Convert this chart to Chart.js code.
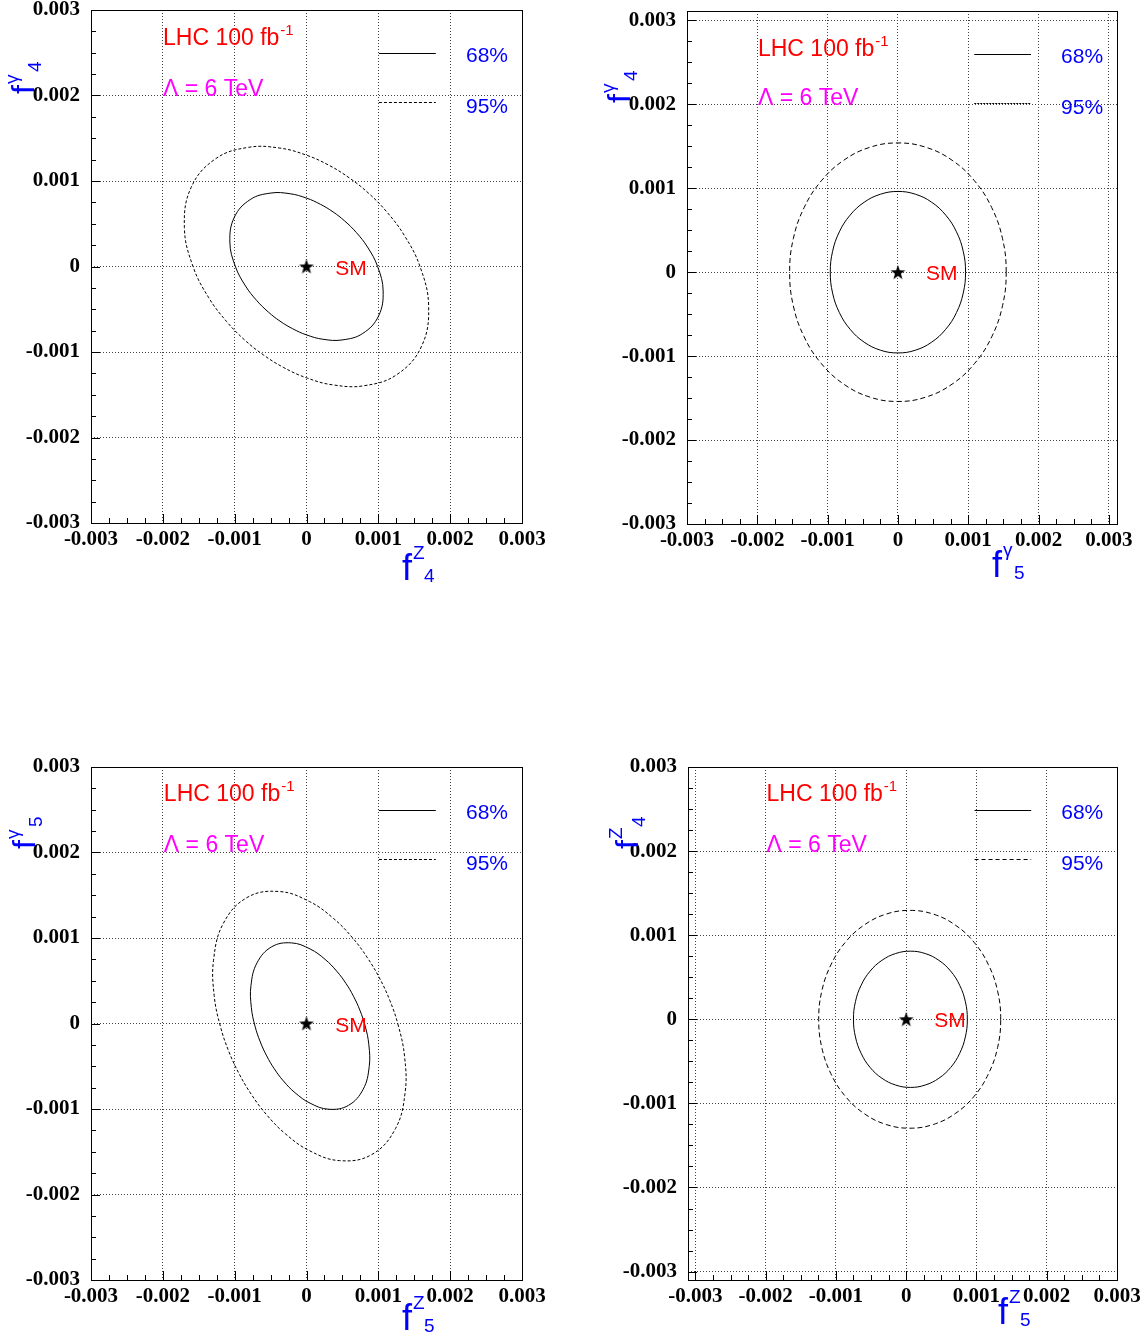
<!DOCTYPE html>
<html><head><meta charset="utf-8">
<script src="https://cdn.jsdelivr.net/npm/chart.js@4.4.0/dist/chart.umd.min.js"></script>
<style>
html,body{margin:0;padding:0;background:#fff;}
body{width:1145px;height:1342px;position:relative;overflow:hidden;}
.pw{position:absolute;}
canvas{display:block;}
</style></head><body>
<div class="pw" id="w1"><canvas id="c1"></canvas></div>
<div class="pw" id="w2"><canvas id="c2"></canvas></div>
<div class="pw" id="w3"><canvas id="c3"></canvas></div>
<div class="pw" id="w4"><canvas id="c4"></canvas></div>
<script>
// ---- data (values in units of 0.001) ----
const UNIT = 0.001;
const tickValues = [-3, -2, -1, 0, 1, 2, 3];
const tickLabels = ['-0.003', '-0.002', '-0.001', '0', '0.001', '0.002', '0.003'];
const smPoint = [0, 0];
const seriesNames = ['68%', '95%'];

// f^Z_4 vs f^γ_4
const p1Inner = [[0.990,0],[0.849,0.228],[0.692,0.399],[0.532,0.532],[0.369,0.639],[0.195,0.727],[0,0.800],[-0.228,0.851],[-0.496,0.859],[-0.783,0.783],[-1.003,0.579],[-1.067,0.286],[-0.990,0],[-0.849,-0.228],[-0.692,-0.399],[-0.532,-0.532],[-0.369,-0.639],[-0.195,-0.727],[0,-0.800],[0.228,-0.851],[0.496,-0.859],[0.783,-0.783],[1.003,-0.579],[1.067,-0.286]];
const p1Outer = [[1.580,0],[1.361,0.365],[1.113,0.643],[0.860,0.860],[0.598,1.035],[0.317,1.182],[0,1.302],[-0.371,1.385],[-0.805,1.394],[-1.262,1.262],[-1.605,0.927],[-1.700,0.456],[-1.580,0],[-1.361,-0.365],[-1.113,-0.643],[-0.860,-0.860],[-0.598,-1.035],[-0.317,-1.182],[0,-1.302],[0.371,-1.385],[0.805,-1.394],[1.262,-1.262],[1.605,-0.927],[1.700,-0.456]];
// f^γ_5 vs f^γ_4
const p2Inner = [[0.962,0],[0.929,0.249],[0.833,0.481],[0.680,0.680],[0.481,0.833],[0.249,0.929],[0,0.962],[-0.249,0.929],[-0.481,0.833],[-0.680,0.680],[-0.833,0.481],[-0.929,0.249],[-0.962,0],[-0.929,-0.249],[-0.833,-0.481],[-0.680,-0.680],[-0.481,-0.833],[-0.249,-0.929],[0,-0.962],[0.249,-0.929],[0.481,-0.833],[0.680,-0.680],[0.833,-0.481],[0.929,-0.249]];
const p2Outer = [[1.540,0],[1.488,0.399],[1.334,0.770],[1.089,1.089],[0.770,1.334],[0.399,1.488],[0,1.540],[-0.399,1.488],[-0.770,1.334],[-1.089,1.089],[-1.334,0.770],[-1.488,0.399],[-1.540,0],[-1.488,-0.399],[-1.334,-0.770],[-1.089,-1.089],[-0.770,-1.334],[-0.399,-1.488],[0,-1.540],[0.399,-1.488],[0.770,-1.334],[1.089,-1.089],[1.334,-0.770],[1.488,-0.399]];
// f^Z_5 vs f^γ_5
const p3Inner = [[0.817,-0.030],[0.743,0.156],[0.654,0.319],[0.549,0.469],[0.421,0.612],[0.259,0.750],[0.050,0.872],[-0.211,0.943],[-0.485,0.897],[-0.689,0.709],[-0.773,0.445],[-0.768,0.189],[-0.717,-0.030],[-0.643,-0.216],[-0.554,-0.379],[-0.449,-0.529],[-0.321,-0.672],[-0.159,-0.810],[0.050,-0.932],[0.311,-1.003],[0.585,-0.957],[0.789,-0.769],[0.873,-0.505],[0.868,-0.249]];
const p3Outer = [[1.280,-0.030],[1.160,0.270],[1.015,0.533],[0.844,0.774],[0.638,1.005],[0.377,1.228],[0.040,1.427],[-0.382,1.544],[-0.828,1.473],[-1.159,1.169],[-1.294,0.740],[-1.285,0.325],[-1.200,-0.030],[-1.080,-0.330],[-0.935,-0.593],[-0.764,-0.834],[-0.558,-1.065],[-0.297,-1.288],[0.040,-1.487],[0.462,-1.604],[0.908,-1.533],[1.239,-1.229],[1.374,-0.800],[1.365,-0.385]];
// f^Z_5 vs f^Z_4
const p4Inner = [[0.870,0],[0.842,0.210],[0.761,0.405],[0.633,0.573],[0.465,0.701],[0.270,0.782],[0.060,0.810],[-0.150,0.782],[-0.345,0.701],[-0.513,0.573],[-0.641,0.405],[-0.722,0.210],[-0.750,0],[-0.722,-0.210],[-0.641,-0.405],[-0.513,-0.573],[-0.345,-0.701],[-0.150,-0.782],[0.060,-0.810],[0.270,-0.782],[0.465,-0.701],[0.633,-0.573],[0.761,-0.405],[0.842,-0.210]];
const p4Outer = [[1.345,0],[1.301,0.335],[1.171,0.648],[0.966,0.916],[0.698,1.121],[0.385,1.251],[0.050,1.295],[-0.285,1.251],[-0.598,1.121],[-0.866,0.916],[-1.071,0.648],[-1.201,0.335],[-1.245,0],[-1.201,-0.335],[-1.071,-0.648],[-0.866,-0.916],[-0.598,-1.121],[-0.285,-1.251],[0.050,-1.295],[0.385,-1.251],[0.698,-1.121],[0.966,-0.916],[1.171,-0.648],[1.301,-0.335]];

// ---- layout / style per panel ----
const panels = [
  {id:'c1', wrap:'w1', box:[0,0,580,620], area:[91,10,522,523], xr:[-3,3], yr:[-3,3],
   inner:p1Inner, outer:p1Outer, dash:[3,2], legDash:[3,2],
   xt:{sup:'Z', sub:'4', x:402, y:580}, yt:{sup:'γ', sub:'4', x:34, y:94},
   lhc:[0.167,0.068], lam:[0.167,0.167]},
  {id:'c2', wrap:'w2', box:[580,0,565,620], area:[687,11,1117,524], xr:[-3,3.116], yr:[-3,3.112],
   inner:p2Inner, outer:p2Outer, dash:[5,3], legDash:[2,1],
   xt:{sup:'γ', sub:'5', x:992, y:577}, yt:{sup:'γ', sub:'4', x:630, y:103},
   lhc:[0.165,0.088], lam:[0.165,0.183]},
  {id:'c3', wrap:'w3', box:[0,730,580,612], area:[91,767,522,1280], xr:[-3,3], yr:[-3,3],
   inner:p3Inner, outer:p3Outer, dash:[3,2], legDash:[3,2],
   xt:{sup:'Z', sub:'5', x:402, y:1330}, yt:{sup:'γ', sub:'5', x:35, y:849},
   lhc:[0.169,0.067], lam:[0.169,0.166]},
  {id:'c4', wrap:'w4', box:[580,730,565,612], area:[688,767,1117,1280], xr:[-3.105,3], yr:[-3.1,3],
   inner:p4Inner, outer:p4Outer, dash:[5,3], legDash:[4,3],
   xt:{sup:'Z', sub:'5', x:998, y:1324}, yt:{sup:'Z', sub:'4', x:638, y:849},
   lhc:[0.183,0.067], lam:[0.183,0.166]}
];

// star marker
const star = document.createElement('canvas');
star.width = 18; star.height = 18;
(function(){
  const sc = star.getContext('2d');
  sc.fillStyle = '#000';
  sc.beginPath();
  for (let i = 0; i < 10; i++) {
    const r = (i % 2) ? 3.1 : 7.8;
    const a = -Math.PI / 2 + i * Math.PI / 5;
    sc.lineTo(9 + r * Math.cos(a), 9.6 + r * Math.sin(a));
  }
  sc.closePath(); sc.fill();
})();

const SANS = '"Liberation Sans", Arial, sans-serif';

// closed curve: wrap with neighbours so the spline is smooth at the seam
function toPts(arr) {
  const n = arr.length;
  const seq = [arr[n - 1]].concat(arr, [arr[0], arr[1]]);
  return seq.map(q => ({x: q[0] * UNIT, y: q[1] * UNIT}));
}
// hide the two helper segments (first and last) so nothing is drawn twice
function seamColor(n) {
  return c => (c.p0DataIndex === 0 || c.p0DataIndex === n + 1) ? 'rgba(0,0,0,0)' : '#000';
}

function makeDeco(p) {
  const [cx, cy] = p.box;
  function title(ctx, t, rotated) {
    ctx.save();
    ctx.fillStyle = '#0000ff';
    ctx.textBaseline = 'alphabetic';
    ctx.textAlign = 'left';
    ctx.translate(t.x - cx, t.y - cy);
    if (rotated) ctx.rotate(-Math.PI / 2);
    const big = rotated ? 32 : 36;
    ctx.font = big + 'px ' + SANS;
    ctx.fillText('f', 0, 0);
    ctx.font = '19px ' + SANS;
    ctx.fillText(t.sup, rotated ? 10 : 11, rotated ? -16 : -21);
    ctx.fillText(t.sub, rotated ? 22 : 22, rotated ? 7 : 2);
    ctx.restore();
  }
  return {
    id: 'deco',
    afterDraw(chart) {
      const ctx = chart.ctx, a = chart.chartArea;
      const xs = chart.scales.x, ys = chart.scales.y;
      const W = a.right - a.left, H = a.bottom - a.top;
      ctx.save();
      // minor/major tick marks inside the frame (bottom and left axes)
      ctx.strokeStyle = '#000'; ctx.lineWidth = 1; ctx.setLineDash([]);
      for (let k = -13; k <= 13; k++) {
        const v = k * 0.25;
        const len = (k % 4 === 0) ? 9 : 5;
        if (v >= p.xr[0] - 1e-9 && v <= p.xr[1] + 1e-9) {
          const px = Math.round(xs.getPixelForValue(v * UNIT)) + 0.5;
          ctx.beginPath(); ctx.moveTo(px, a.bottom); ctx.lineTo(px, a.bottom - len); ctx.stroke();
        }
        if (v >= p.yr[0] - 1e-9 && v <= p.yr[1] + 1e-9) {
          const py = Math.round(ys.getPixelForValue(v * UNIT)) + 0.5;
          ctx.beginPath(); ctx.moveTo(a.left, py); ctx.lineTo(a.left + len, py); ctx.stroke();
        }
      }
      // frame
      ctx.strokeRect(Math.round(a.left) + 0.5, Math.round(a.top) + 0.5, Math.round(W), Math.round(H));

      // annotations
      ctx.textAlign = 'left'; ctx.textBaseline = 'alphabetic';
      ctx.font = '23px ' + SANS;
      ctx.fillStyle = '#ff0000';
      const lx = a.left + p.lhc[0] * W, ly = a.top + p.lhc[1] * H;
      ctx.fillText('LHC 100 fb', lx, ly);
      const lw = ctx.measureText('LHC 100 fb').width;
      ctx.font = '15px ' + SANS;
      ctx.fillText('-1', lx + lw + 1, ly - 10);
      ctx.font = '23px ' + SANS;
      ctx.fillStyle = '#ff00ff';
      ctx.fillText('Λ = 6 TeV', a.left + p.lam[0] * W, a.top + p.lam[1] * H);

      // legend
      const x0 = a.left + 0.668 * W, x1 = a.left + 0.800 * W;
      ctx.strokeStyle = '#000';
      let y = Math.round(a.top + 0.0838 * H) + 0.5;
      ctx.beginPath(); ctx.moveTo(x0, y); ctx.lineTo(x1, y); ctx.stroke();
      y = Math.round(a.top + 0.179 * H) + 0.5;
      ctx.setLineDash(p.legDash);
      ctx.beginPath(); ctx.moveTo(x0, y); ctx.lineTo(x1, y); ctx.stroke();
      ctx.setLineDash([]);
      ctx.font = '21px ' + SANS;
      ctx.fillStyle = '#0000ff';
      ctx.fillText(seriesNames[0], a.left + 0.870 * W, a.top + 0.101 * H);
      ctx.fillText(seriesNames[1], a.left + 0.870 * W, a.top + 0.201 * H);

      // SM label
      ctx.fillStyle = '#ff0000';
      ctx.fillText('SM', xs.getPixelForValue(0.0004), ys.getPixelForValue(0) + 8);

      // axis titles
      title(ctx, p.xt, false);
      title(ctx, p.yt, true);
      ctx.restore();
    }
  };
}

function makeChart(p) {
  const cv = document.getElementById(p.id);
  const wr = document.getElementById(p.wrap);
  const [cx, cy, cw, ch] = p.box;
  wr.style.left = cx + 'px'; wr.style.top = cy + 'px';
  wr.style.width = cw + 'px'; wr.style.height = ch + 'px';
  cv.width = cw; cv.height = ch;
  cv.style.width = cw + 'px'; cv.style.height = ch + 'px';
  const [L, T, R, B] = p.area;
  const yAxisW = L - cx, xAxisH = cy + ch - B, padTop = T - cy, padRight = cx + cw - R;
  const tickFont = {family: '"Liberation Serif", "Times New Roman", serif', weight: 'bold', size: 21};
  const common = {
    type: 'linear',
    afterBuildTicks: s => { s.ticks = tickValues.map(v => ({value: v * UNIT})); },
    grid: {color: '#444', lineWidth: 1, drawTicks: false},
    border: {display: false, dash: [1, 2]},
  };
  new Chart(cv, {
    type: 'scatter',
    data: {datasets: [
      {label: seriesNames[1], data: toPts(p.outer), showLine: true, borderColor: '#000', borderWidth: 1,
       borderDash: p.dash, pointRadius: 0, tension: 0.4, fill: false,
       segment: {borderColor: seamColor(p.outer.length)}},
      {label: seriesNames[0], data: toPts(p.inner), showLine: true, borderColor: '#000', borderWidth: 1,
       pointRadius: 0, tension: 0.4, fill: false,
       segment: {borderColor: seamColor(p.inner.length)}},
      {label: 'SM', data: [{x: smPoint[0] * UNIT, y: smPoint[1] * UNIT}], showLine: false,
       pointStyle: star, pointRadius: 9, borderWidth: 0}
    ]},
    options: {
      responsive: false, animation: false, events: [],
      layout: {autoPadding: false, padding: {top: padTop, right: padRight, left: 0, bottom: 0}},
      plugins: {legend: {display: false}, tooltip: {enabled: false}},
      scales: {
        x: Object.assign({}, common, {
          min: p.xr[0] * UNIT, max: p.xr[1] * UNIT,
          afterFit: s => { s.height = xAxisH; s.paddingLeft = 0; s.paddingRight = 0; },
          ticks: {autoSkip: false, maxRotation: 0, minRotation: 0, padding: 4, font: tickFont, color: '#000',
                  callback: (v, i) => tickLabels[i]}
        }),
        y: Object.assign({}, common, {
          min: p.yr[0] * UNIT, max: p.yr[1] * UNIT,
          afterFit: s => { s.width = yAxisW; s.paddingTop = 0; s.paddingBottom = 0; },
          ticks: {autoSkip: false, padding: 11, font: tickFont, color: '#000',
                  callback: (v, i) => tickLabels[i]}
        })
      }
    },
    plugins: [makeDeco(p)]
  });
}

panels.forEach(makeChart);
</script>
</body></html>
